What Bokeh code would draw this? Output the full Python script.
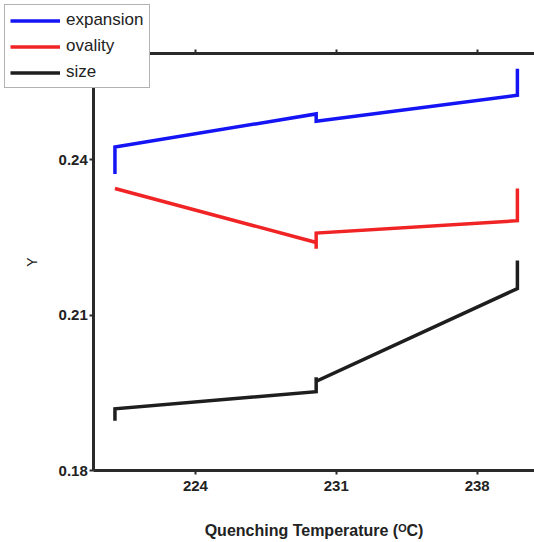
from bokeh.plotting import figure
from bokeh.models import Range1d, LinearAxis, FixedTicker, Legend, LegendItem
from bokeh.embed import file_html
from bokeh.resources import INLINE

# ---- data ----
x_ticks = [224, 231, 238]
y_ticks = [0.18, 0.21, 0.24]

temp_expansion = [220, 220, 230, 230, 240, 240]
expansion = [0.2372, 0.2424, 0.2488, 0.2474, 0.2524, 0.2575]

temp_ovality = [220, 230, 230, 230, 240, 240]
ovality = [0.2344, 0.2240, 0.2228, 0.2258, 0.2282, 0.2344]

temp_size = [220, 220, 230, 230, 230, 240, 240]
size = [0.1896, 0.1919, 0.1952, 0.1980, 0.1972, 0.2151, 0.2205]

series_names = ["expansion", "ovality", "size"]
series_colors = ["#1414f5", "#f02424", "#1e1e1e"]

# axis box (data units) and the visible window around it
x_axis_start, x_axis_end = 218.95, 240.85
y_axis_start, y_axis_end = 0.18, 0.2604

W, H = 534, 540
FONT = "Liberation Sans"
AX = "#2a2a2a"

# frame spans the whole canvas; axes are pinned at fixed data positions
px_per_x = 20.12
px_per_y = 5183.0
left_px, bottom_px = 93.3, H - 470
x_range = Range1d(x_axis_start - left_px / px_per_x, x_axis_end)
y_range = Range1d(y_axis_start - bottom_px / px_per_y, y_axis_start + 470 / px_per_y)

p = figure(width=W, height=H, x_range=x_range, y_range=y_range,
           output_backend="svg", toolbar_location=None,
           x_axis_type=None, y_axis_type=None,
           min_border=0)
p.outline_line_color = None
p.xgrid.visible = False
p.ygrid.visible = False
p.background_fill_color = "white"
p.border_fill_color = "white"

renderers = []
for xs, ys, c in [(temp_expansion, expansion, series_colors[0]),
                  (temp_ovality, ovality, series_colors[1]),
                  (temp_size, size, series_colors[2])]:
    r = p.line(xs, ys, line_color=c, line_width=3.5, line_join="miter")
    renderers.append(r)

def style_axis(ax):
    ax.axis_line_color = AX
    ax.axis_line_width = 3
    ax.major_tick_line_color = AX
    ax.major_tick_line_width = 2
    ax.major_tick_out = 4
    ax.major_tick_in = 0
    ax.minor_tick_line_color = None
    ax.major_label_text_font = FONT
    ax.major_label_text_font_style = "bold"
    ax.major_label_text_font_size = "15px"
    ax.major_label_text_color = "#222222"

xa = LinearAxis(ticker=FixedTicker(ticks=x_ticks), fixed_location=y_axis_start,
                bounds=(x_axis_start, x_axis_end))
style_axis(xa)
xa.major_label_standoff = 6
xa.axis_label = "Quenching Temperature (\u1d3cC)"
xa.axis_label_text_font = FONT
xa.axis_label_text_font_style = "bold"
xa.axis_label_text_font_size = "16px"
xa.axis_label_text_color = "#222222"
xa.axis_label_standoff = 28
p.add_layout(xa, "below")

ya = LinearAxis(ticker=FixedTicker(ticks=y_ticks), fixed_location=x_axis_start,
                bounds=(y_axis_start, y_axis_end))
style_axis(ya)
ya.major_label_standoff = 2
ya.axis_label = "Y"
ya.axis_label_text_font = FONT
ya.axis_label_text_font_style = "normal"
ya.axis_label_text_font_size = "14px"
ya.axis_label_text_color = "#222222"
ya.axis_label_standoff = 15
p.add_layout(ya, "left")

top = LinearAxis(ticker=FixedTicker(ticks=x_ticks), fixed_location=y_axis_end,
                 bounds=(x_axis_start, x_axis_end))
style_axis(top)
top.major_label_text_font_size = "0px"
top.major_label_text_color = None
p.add_layout(top, "above")

legend = Legend(items=[LegendItem(label=n, renderers=[r]) for n, r in zip(series_names, renderers)],
                location="top_left", margin=4, padding=5, spacing=6,
                glyph_width=50, glyph_height=19, label_height=19, label_standoff=6,
                label_text_font=FONT, label_text_font_size="17px",
                label_text_color="#222222",
                border_line_color="#666666", border_line_width=1,
                background_fill_color="white", background_fill_alpha=1.0)
p.add_layout(legend, "center")

open("out.html", "w").write(file_html(p, INLINE))
